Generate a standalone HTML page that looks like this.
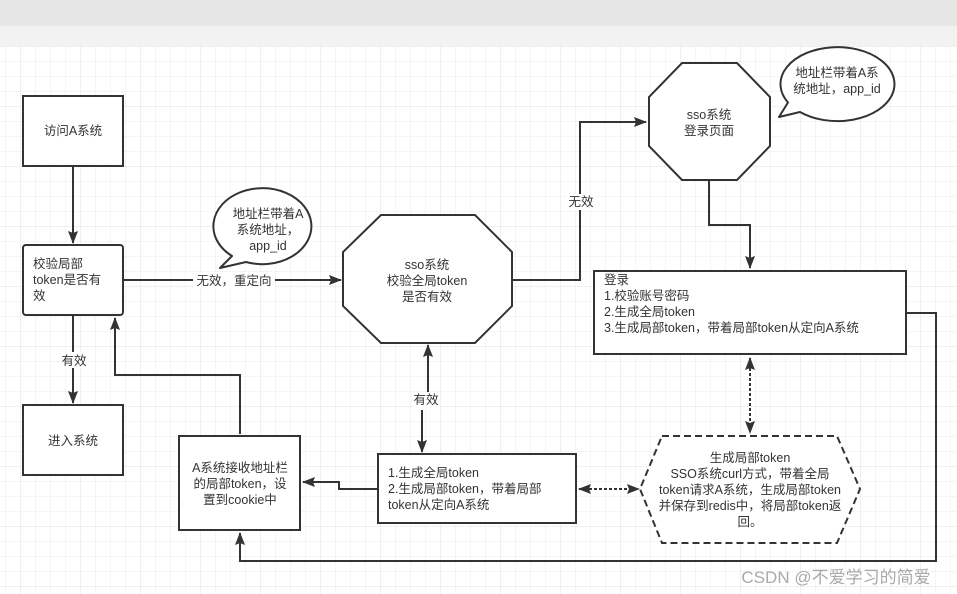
<!DOCTYPE html>
<html><head><meta charset="utf-8"><style>
html,body{margin:0;padding:0;background:#fff}
svg{display:block}
text{font-family:"Liberation Sans","Noto Sans CJK SC",sans-serif;font-size:12.5px;fill:#333}
</style></head><body>
<svg width="957" height="594" xmlns="http://www.w3.org/2000/svg">
<defs>
<pattern id="g" x="5" y="46" width="15" height="15" patternUnits="userSpaceOnUse">
<path d="M0 0H15M0 0V15" stroke="#ebebeb" stroke-width="1" fill="none"/>
</pattern>
<pattern id="G" x="20" y="46" width="60" height="60" patternUnits="userSpaceOnUse">
<path d="M0 0H60M0 0V60" stroke="#e0e0e0" stroke-width="1" fill="none"/>
</pattern>
<marker id="a" markerWidth="14" markerHeight="12" refX="12" refY="6" orient="auto" markerUnits="userSpaceOnUse">
<path d="M0 1L13 6L0 11L2 6Z" fill="#333"/>
</marker>
<marker id="b" markerWidth="14" markerHeight="12" refX="1" refY="6" orient="auto" markerUnits="userSpaceOnUse">
<path d="M13 1L0 6L13 11L11 6Z" fill="#333"/>
</marker>
</defs>
<rect x="0" y="0" width="957" height="26" fill="#e6e6e6"/>
<rect x="0" y="26" width="957" height="20" fill="#f2f2f2"/>
<rect x="0" y="46" width="957" height="548" fill="url(#g)"/>
<rect x="0" y="46" width="957" height="548" fill="url(#G)"/>

<g stroke="#333" stroke-width="2" fill="none">
<path d="M73 166V243" marker-end="url(#a)"/>
<path d="M73 316V403" marker-end="url(#a)"/>
<path d="M240 434V375H115V318" marker-end="url(#a)"/>
<path d="M123 280H341" marker-end="url(#a)"/>
<path d="M512 280H580V122H646" marker-end="url(#a)"/>
<path d="M709 180V225H750V268" marker-end="url(#a)"/>
<path d="M906 313H936V561H240V533" marker-end="url(#a)"/>
<path d="M428 392V345" marker-end="url(#a)"/>
<path d="M422 410V452" marker-end="url(#a)"/>
<path d="M378 489H339V482H303" marker-end="url(#a)"/>
<path d="M750 358V433" stroke-dasharray="3 2" marker-start="url(#b)" marker-end="url(#a)"/>
<path d="M579 489H639" stroke-dasharray="3 2" marker-start="url(#b)" marker-end="url(#a)"/>
</g>

<g stroke="#333" stroke-width="2" fill="#fff">
<rect x="23" y="96" width="100" height="70"/>
<rect x="23" y="245" width="100" height="70" rx="3"/>
<rect x="23" y="405" width="100" height="70"/>
<rect x="179" y="436" width="121" height="94"/>
<polygon points="381,215 475,215 512,252 512,306 475,343 381,343 343,306 343,252"/>
<polygon points="682,63 737,63 770,97 770,146 737,180 682,180 649,146 649,97"/>
<rect x="594" y="271" width="312" height="83"/>
<rect x="378" y="454" width="198" height="69"/>
<polygon points="662,436 837,436 860,489 837,543 662,543 640,489" stroke-dasharray="7 4"/>
<path d="M220 268 L232 256 A49 38 0 1 1 246 262 Z" stroke-linejoin="round"/>
<path d="M779 117 L800 112 A57 37 0 1 0 788 102.5 Z" stroke-linejoin="round"/>
</g>

<rect x="193" y="272" width="82" height="16" fill="#fff"/>
<rect x="60" y="352" width="28" height="16" fill="#fff"/>
<rect x="566" y="194" width="30" height="16" fill="#fff"/>
<rect x="412" y="392" width="28" height="16" fill="#fff"/>

<text x="73" y="135" text-anchor="middle">访问A系统</text>
<text x="33" y="268">校验局部</text>
<text x="33" y="284">token是否有</text>
<text x="33" y="300">效</text>
<text x="73" y="445" text-anchor="middle">进入系统</text>
<text x="74" y="365" text-anchor="middle">有效</text>
<text x="234" y="285" text-anchor="middle">无效，重定向</text>
<text x="268" y="218" text-anchor="middle">地址栏带着A</text>
<text x="268" y="234" text-anchor="middle">系统地址，</text>
<text x="268" y="250" text-anchor="middle">app_id</text>
<text x="427" y="269" text-anchor="middle">sso系统</text>
<text x="427" y="285" text-anchor="middle">校验全局token</text>
<text x="427" y="301" text-anchor="middle">是否有效</text>
<text x="581" y="206" text-anchor="middle">无效</text>
<text x="709" y="119" text-anchor="middle">sso系统</text>
<text x="709" y="135" text-anchor="middle">登录页面</text>
<text x="837" y="77" text-anchor="middle">地址栏带着A系</text>
<text x="837" y="93" text-anchor="middle">统地址，app_id</text>
<text x="604" y="284">登录</text>
<text x="604" y="300">1.校验账号密码</text>
<text x="604" y="316">2.生成全局token</text>
<text x="604" y="332">3.生成局部token，带着局部token从定向A系统</text>
<text x="426" y="404" text-anchor="middle">有效</text>
<text x="240" y="472" text-anchor="middle">A系统接收地址栏</text>
<text x="240" y="488" text-anchor="middle">的局部token，设</text>
<text x="240" y="504" text-anchor="middle">置到cookie中</text>
<text x="388" y="477">1.生成全局token</text>
<text x="388" y="493">2.生成局部token，带着局部</text>
<text x="388" y="509">token从定向A系统</text>
<text x="750" y="462" text-anchor="middle">生成局部token</text>
<text x="750" y="478" text-anchor="middle">SSO系统curl方式，带着全局</text>
<text x="750" y="494" text-anchor="middle">token请求A系统，生成局部token</text>
<text x="750" y="510" text-anchor="middle">并保存到redis中，将局部token返</text>
<text x="750" y="526" text-anchor="middle">回。</text>
<text x="836" y="583" text-anchor="middle" style="font-size:17px;fill:#aaa">CSDN @不爱学习的简爱</text>
</svg>
</body></html>
